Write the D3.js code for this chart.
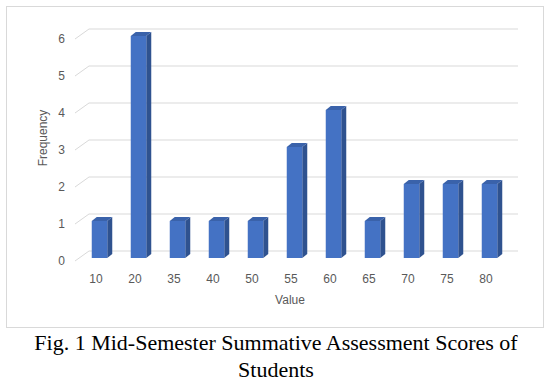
<!DOCTYPE html>
<html>
<head>
<meta charset="utf-8">
<script src="https://cdn.jsdelivr.net/npm/d3@7"></script>
<style>
  body { margin: 0; background: #fff; }
  .caption { font-family: "Liberation Serif", "Times New Roman", serif; font-size: 22px; fill: #000; }
  .lbl { font-family: "Liberation Sans", Arial, sans-serif; font-size: 12px; fill: #595959; }
</style>
</head>
<body>
<div id="chart"></div>
<script>
var categories = ['10', '20', '35', '40', '50', '55', '60', '65', '70', '75', '80'];
var frequency = [1, 6, 1, 1, 1, 3, 4, 1, 2, 2, 2];
var yTicks = [0, 1, 2, 3, 4, 5, 6];

var W = 552, H = 389;
var frontLeft = 75, frontRight = 504,
    depthX = 14, depthY = -10,
    barDX = 5, barDY = -3,
    barW = 15.5, sideX = 5, sideY = -4;

var svg = d3.select('#chart')
  .append('svg')
  .attr('width', W)
  .attr('height', H);

// chart frame
svg.append('rect')
  .attr('x', 6.5).attr('y', 6.5)
  .attr('width', 537).attr('height', 321)
  .attr('fill', '#fff')
  .attr('stroke', '#d9d9d9');

var x = d3.scaleBand().domain(categories).range([frontLeft, frontRight]).padding(0);
// y of the back wall
var y = d3.scaleLinear().domain([0, 6]).range([251, 29]);

// gridlines: floor diagonal plus back wall line
var grid = svg.append('g');
yTicks.forEach(function(t) {
  var yb = y(t);
  grid.append('path')
    .attr('d', 'M' + frontLeft + ',' + (yb - depthY) + 'L' + (frontLeft + depthX) + ',' + yb +
               'L' + (frontRight + depthX) + ',' + yb)
    .attr('fill', 'none')
    .attr('stroke', '#d9d9d9')
    .attr('stroke-width', 1);
});

// y tick labels
svg.append('g').selectAll('text')
  .data(yTicks)
  .enter().append('text')
  .attr('class', 'lbl')
  .attr('x', 65)
  .attr('y', function(d) { return y(d) - depthY; })
  .attr('dy', '0.35em')
  .attr('text-anchor', 'end')
  .text(function(d) { return d; });

// x labels
svg.append('g').selectAll('text')
  .data(categories)
  .enter().append('text')
  .attr('class', 'lbl')
  .attr('x', function(d) { return x(d) + x.bandwidth() / 2 + 1.5; })
  .attr('y', 279)
  .attr('dy', '0.35em')
  .attr('text-anchor', 'middle')
  .text(function(d) { return d; });

// bars
var bars = svg.append('g').selectAll('g')
  .data(categories.map(function(c, i) { return { name: c, value: frequency[i] }; }))
  .enter().append('g');

function barLeft(d) { return x(d.name) + (x.bandwidth() - barW) / 2 + barDX; }
function barTop(d) { return y(d.value) - depthY + barDY; }
var base = y(0) - depthY + barDY;

bars.append('path')
  .attr('fill', '#2f528f')
  .attr('d', function(d) {
    var r = barLeft(d) + barW, t = barTop(d);
    return 'M' + r + ',' + base + 'L' + (r + sideX) + ',' + (base + sideY) +
           'L' + (r + sideX) + ',' + (t + sideY) + 'L' + r + ',' + t + 'Z';
  });

bars.append('path')
  .attr('fill', '#3a62aa')
  .attr('d', function(d) {
    var l = barLeft(d), t = barTop(d);
    return 'M' + l + ',' + t + 'L' + (l + sideX) + ',' + (t + sideY) +
           'L' + (l + barW + sideX) + ',' + (t + sideY) + 'L' + (l + barW) + ',' + t + 'Z';
  });

bars.append('rect')
  .attr('fill', '#4472c4')
  .attr('x', barLeft)
  .attr('y', barTop)
  .attr('width', barW)
  .attr('height', function(d) { return base - barTop(d); });

// axis titles
svg.append('text')
  .attr('class', 'lbl')
  .attr('x', 290).attr('y', 300)
  .attr('dy', '0.35em')
  .attr('text-anchor', 'middle')
  .text('Value');

svg.append('text')
  .attr('class', 'lbl')
  .attr('transform', 'translate(43,138) rotate(-90)')
  .attr('dy', '0.35em')
  .attr('text-anchor', 'middle')
  .text('Frequency');

// caption
svg.append('text')
  .attr('class', 'caption')
  .attr('x', 276).attr('y', 350)
  .attr('text-anchor', 'middle')
  .text('Fig. 1 Mid-Semester Summative Assessment Scores of');

svg.append('text')
  .attr('class', 'caption')
  .attr('x', 276).attr('y', 377)
  .attr('text-anchor', 'middle')
  .text('Students');
</script>
</body>
</html>
